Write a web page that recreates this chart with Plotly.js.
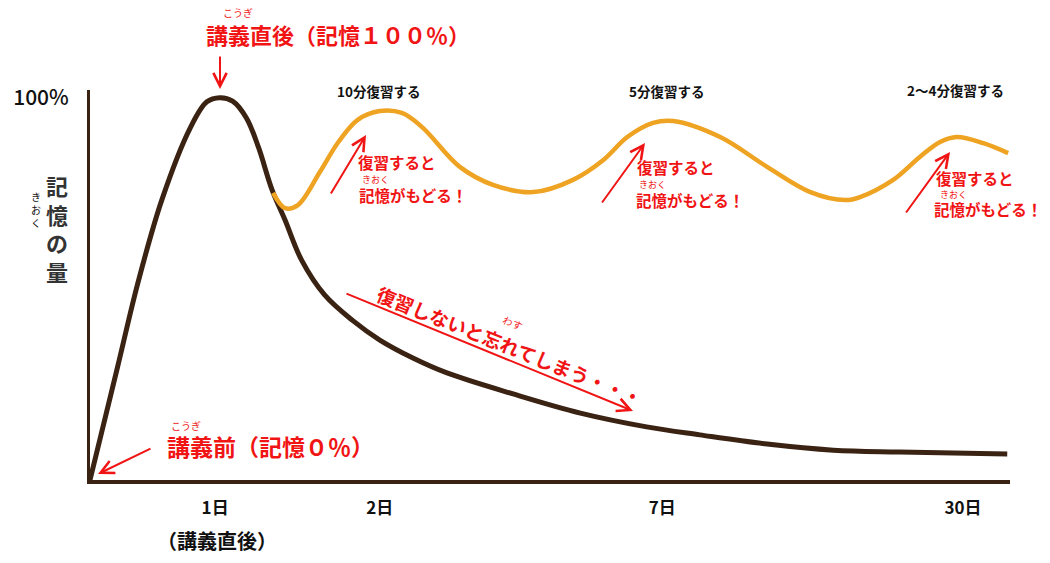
<!DOCTYPE html>
<html>
<head>
<meta charset="utf-8">
<script src="https://cdn.plot.ly/plotly-3.0.1.min.js"></script>
<style>
  body { margin: 0; background: #fff; }
  #chart { width: 1050px; height: 563px; }
</style>
</head>
<body>
<div id="chart"></div>
<script>
// forgetting curve: position along the time axis (0-100) and memory amount (%)
const timeNoReview = [0, 3.0, 5.2, 7.8, 10.9, 12.7, 14.1, 15.5, 17.0, 18.3, 19.8, 21.2,
  23.0, 25.5, 28.5, 31.5, 35.1, 38.8, 46.0, 53.3, 60.5, 66.3, 73.6, 80.8, 88.0, 99.7];
const memNoReview = [0, 29.6, 51.5, 73.2, 92.1, 98.9, 100, 99.1, 94.7, 87.1, 75.8, 68.0,
  57.5, 48.4, 41.8, 36.6, 31.9, 28.0, 22.5, 17.5, 13.9, 11.8, 9.4, 7.8, 7.3, 6.8];

// curve with reviews
const timeReview = [19.9, 21.2, 22.6, 25.0, 27.0, 29.1, 31.5, 33.9, 36.1, 40.2, 43.8, 48.2, 52.5,
  55.8, 58.4, 61.2, 63.4, 68.5, 73.6, 78.3, 82.1, 83.7, 87.3, 90.2, 92.4, 94.2, 97.1, 99.8];
const memReview = [75.1, 71.1, 71.9, 80.6, 88.4, 94.2, 96.5, 96.0, 92.3, 81.9, 77.2, 75.3, 78.5,
  83.7, 89.7, 93.4, 93.9, 89.7, 81.9, 75.3, 73.2, 74.0, 78.5, 84.5, 88.4, 89.7, 88.1, 85.5];

const tickPos = [13.6, 31.5, 62.2, 94.9];
const tickLabels = ['1日', '2日', '7日', '30日'];

const BROWN = '#3b2313';
const ORANGE = '#eea322';
const RED = '#f01414';
const JP = '"Noto Sans CJK JP", "Noto Sans", sans-serif';

// pixel -> paper helpers for placing the hand-drawn style notes
const X = p => (p - 90) / 920;
const Y = p => (480 - p) / 390;

const label = (px, py, text, size, color, extra = {}, weight = 'bold') => ({
  x: X(px), y: Y(py), xref: 'paper', yref: 'paper', xanchor: 'center', yanchor: 'middle',
  text: text, showarrow: false,
  font: {family: JP, size: size, color: color, weight: weight}, ...extra
});

const arrow = (fx, fy, tx, ty) => ({
  x: X(tx), y: Y(ty), xref: 'paper', yref: 'paper',
  ax: fx - tx, ay: fy - ty, axref: 'pixel', ayref: 'pixel',
  text: '', showarrow: true, arrowhead: 5, arrowsize: 1.3, arrowwidth: 2,
  arrowcolor: RED, standoff: 0
});

const annotations = [
  // top
  label(338, 34, '講義直後（記憶１００％）', 22, RED),
  label(238, 12, 'こうぎ', 10, RED, {}, 'normal'),
  arrow(220, 55, 220, 89),
  // origin
  label(270, 446, '講義前（記憶０％）', 23, RED),
  label(186, 425, 'こうぎ', 10, RED, {}, 'normal'),
  arrow(152, 448, 98, 474),
  // y title
  label(57, 228, '記<br>憶<br>の<br>量', 22, '#333'),
  label(36, 209, 'き<br>お<br>く', 10, '#111', {}, 'normal'),
  // under 1日
  label(217, 540, '（講義直後）', 20, '#111'),
  // review headings
  label(378, 91, '10分復習する', 13.5, '#111', {bgcolor: '#fff'}),
  label(666, 91, '5分復習する', 13.5, '#111', {bgcolor: '#fff'}),
  label(955, 90, '2〜4分復習する', 13.5, '#111', {bgcolor: '#fff'}),
  // review notes
  label(397, 162, '復習すると', 15.5, RED),
  label(375, 179, 'きおく', 9, RED, {}, 'normal'),
  label(413, 195, '記憶がもどる！', 15.5, RED),
  arrow(330, 195, 366, 135),
  label(676, 167, '復習すると', 15.5, RED),
  label(652, 184, 'きおく', 9, RED, {}, 'normal'),
  label(690, 200, '記憶がもどる！', 15.5, RED),
  arrow(601, 204, 645, 143),
  label(975, 178, '復習すると', 15.5, RED),
  label(953, 194, 'きおく', 9, RED, {}, 'normal'),
  label(988, 209, '記憶がもどる！', 15.5, RED),
  arrow(905, 214, 950, 152),
  // no review
  label(510, 345, '復習しないと忘れてしまう・・・', 19, RED, {textangle: 22}),
  label(513, 322, 'わす', 10, RED, {textangle: 22}, 'normal'),
  arrow(345, 293, 633, 411)
];

const traces = [
  {
    x: timeNoReview, y: memNoReview, type: 'scatter', mode: 'lines',
    line: {color: BROWN, width: 5, shape: 'spline', smoothing: 1}, hoverinfo: 'skip'
  },
  {
    x: timeReview, y: memReview, type: 'scatter', mode: 'lines',
    line: {color: ORANGE, width: 4.5, shape: 'spline', smoothing: 1}, hoverinfo: 'skip'
  }
];

Plotly.newPlot('chart', traces, {
  width: 1050, height: 563,
  margin: {l: 90, r: 40, t: 90, b: 83},
  paper_bgcolor: '#fff', plot_bgcolor: '#fff',
  showlegend: false,
  xaxis: {
    range: [0, 100], showgrid: false, zeroline: false,
    showline: true, linecolor: BROWN, linewidth: 4,
    tickvals: tickPos, ticktext: tickLabels, ticks: '', ticklabelstandoff: 10,
    tickfont: {family: JP, size: 17, color: '#111', weight: 'bold'}
  },
  yaxis: {
    range: [0, 102], showgrid: false, zeroline: false,
    showline: true, linecolor: BROWN, linewidth: 3,
    tickvals: [100], ticktext: ['100%'], ticks: '', ticklabelstandoff: 14,
    tickfont: {family: JP, size: 21, color: '#111', weight: 500}
  },
  annotations: annotations
}, {staticPlot: true});
</script>
</body>
</html>
